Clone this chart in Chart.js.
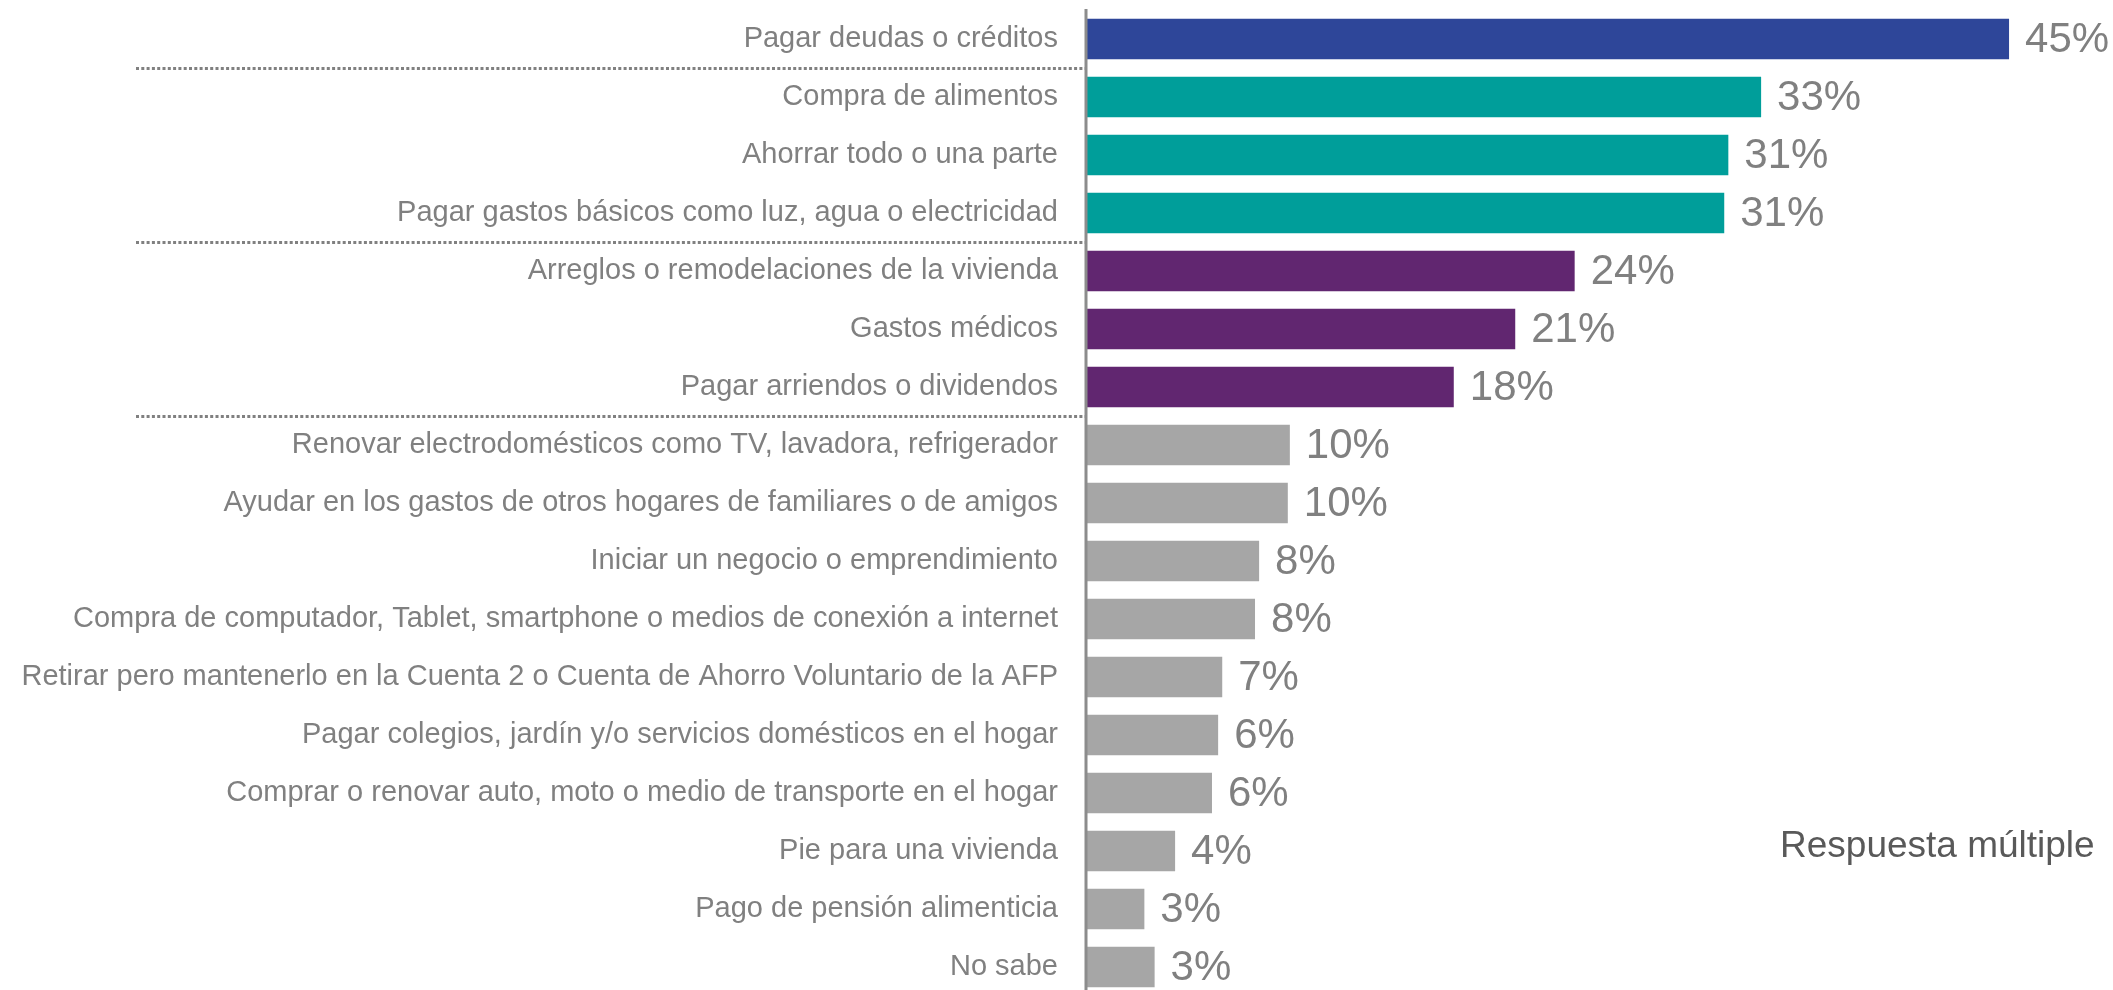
<!DOCTYPE html>
<html>
<head>
<meta charset="utf-8">
<script src="https://cdn.jsdelivr.net/npm/chart.js@4.4.1/dist/chart.umd.min.js"></script>
<style>
  body { margin: 0; background: #fff; overflow: hidden; }
  #wrap { width: 2113px; height: 1000px; }
</style>
</head>
<body>
<div id="wrap"><canvas id="chart" width="2113" height="1000"></canvas></div>
<script>
// categories, top to bottom
var categories = [
  'Pagar deudas o créditos',
  'Compra de alimentos',
  'Ahorrar todo o una parte',
  'Pagar gastos básicos como luz, agua o electricidad',
  'Arreglos o remodelaciones de la vivienda',
  'Gastos médicos',
  'Pagar arriendos o dividendos',
  'Renovar electrodomésticos como TV, lavadora, refrigerador',
  'Ayudar en los gastos de otros hogares de familiares o de amigos',
  'Iniciar un negocio o emprendimiento',
  'Compra de computador, Tablet, smartphone o medios de conexión a internet',
  'Retirar pero mantenerlo en la Cuenta 2 o Cuenta de Ahorro Voluntario de la AFP',
  'Pagar colegios, jardín y/o servicios domésticos en el hogar',
  'Comprar o renovar auto, moto o medio de transporte en el hogar',
  'Pie para una vivienda',
  'Pago de pensión alimenticia',
  'No sabe'
]
// bar lengths (%)
var values = [45.0, 32.9, 31.3, 31.1, 23.8, 20.9, 17.9, 9.9, 9.8, 8.4, 8.2, 6.6, 6.4, 6.1, 4.3, 2.8, 3.3]
// printed labels
var valueLabels = ['45%', '33%', '31%', '31%', '24%', '21%', '18%', '10%', '10%', '8%', '8%', '7%', '6%', '6%', '4%', '3%', '3%']
// colour group of each bar
var groups = [0, 1, 1, 1, 2, 2, 2, 3, 3, 3, 3, 3, 3, 3, 3, 3, 3]
var noteText = 'Respuesta múltiple'

var palette = ['#2E4699', '#009E9A', '#612670', '#A6A6A6']
var FONT = "'Liberation Sans', Arial, sans-serif"

var extras = {
  id: 'extras',
  afterDatasetsDraw: function(chart) {
    var ctx = chart.ctx
    var area = chart.chartArea
    var yScale = chart.scales.y
    var meta = chart.getDatasetMeta(0)
    ctx.save()

    // value labels
    ctx.font = '42px ' + FONT
    ctx.fillStyle = '#808080'
    ctx.textAlign = 'left'
    ctx.textBaseline = 'middle'
    meta.data.forEach(function(bar, i) {
      ctx.fillText(valueLabels[i], bar.x + 16, bar.y + 1)
    })

    // dotted separators between colour groups
    ctx.strokeStyle = '#808080'
    ctx.lineWidth = 3
    ctx.setLineDash([3, 2.3])
    for (var i = 1; i < groups.length; i++) {
      if (groups[i] !== groups[i - 1]) {
        var y = Math.round(yScale.getPixelForValue(i - 0.5)) + 0.5
        ctx.beginPath()
        ctx.moveTo(136, y)
        ctx.lineTo(area.left - 1, y)
        ctx.stroke()
      }
    }
    ctx.setLineDash([])

    // vertical axis line
    ctx.strokeStyle = '#8C8C8C'
    ctx.lineWidth = 3
    ctx.beginPath()
    ctx.moveTo(area.left - 1, 9)
    ctx.lineTo(area.left - 1, chart.height)
    ctx.stroke()

    // note
    ctx.font = '37px ' + FONT
    ctx.fillStyle = '#595959'
    ctx.textBaseline = 'alphabetic'
    ctx.fillText(noteText, 1780, 857)
    ctx.restore()
  }
}

var chart = new Chart(document.getElementById('chart'), {
  type: 'bar',
  data: {
    labels: categories,
    datasets: [{
      data: values,
      backgroundColor: groups.map(function(g) { return palette[g] }),
      borderWidth: 0,
      barPercentage: 0.7,
      categoryPercentage: 1
    }]
  },
  options: {
    indexAxis: 'y',
    responsive: false,
    animation: false,
    layout: { padding: { top: 10, bottom: 4, left: 0, right: 1.5 } },
    plugins: {
      legend: { display: false },
      tooltip: { enabled: false }
    },
    scales: {
      x: {
        display: false,
        min: 0,
        max: 50
      },
      y: {
        grid: { display: false, drawTicks: false },
        border: { display: false },
        ticks: {
          color: '#808080',
          font: { family: FONT, size: 29 },
          padding: 29,
          autoSkip: false
        },
        afterFit: function(scale) {
          scale.width = 1087
          // tick padding would otherwise push the bands in from top and bottom
          scale.paddingTop = 0
          scale.paddingBottom = 0
        }
      }
    }
  },
  plugins: [extras]
})
</script>
</body>
</html>
